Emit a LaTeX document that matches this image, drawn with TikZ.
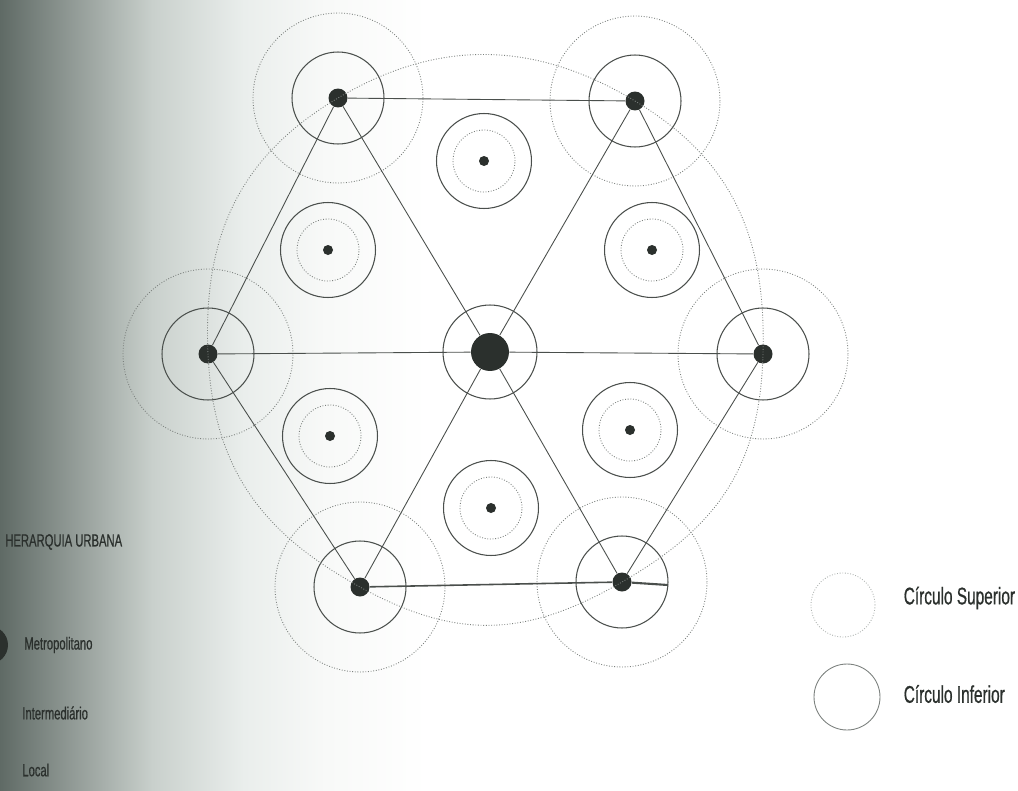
\documentclass[tikz,border=0pt]{standalone}
\usepackage{fontspec}
\usepackage{tikz}
\usetikzlibrary{positioning}
\newfontfamily\legendfont{Liberation Sans}[FakeStretch=0.64,FakeBold=0.6]
\definecolor{Ink}{HTML}{2B302D}
\definecolor{Line}{HTML}{4A4F4C}
\definecolor{Ring}{HTML}{7C817E}
\definecolor{RingLight}{HTML}{AEB3B0}
\definecolor{ScanDark}{HTML}{5F6A65}
\definecolor{ScanMid}{HTML}{C9D0CC}
\definecolor{ScanPale}{HTML}{EAEEEC}
\definecolor{ScanFaint}{HTML}{F8F9F8}
\pgfdeclarehorizontalshading{scanshadow}{100bp}{color(0bp)=(ScanDark); color(25bp)=(ScanDark); color(32.5bp)=(ScanMid); color(37bp)=(ScanPale); color(41bp)=(ScanFaint); color(46bp)=(white); color(100bp)=(white)}
\tikzset{metro/.style={circle,fill=Ink,minimum size=.76cm,inner sep=0pt},inter/.style={circle,fill=Ink,minimum size=.38cm,inner sep=0pt},local/.style={circle,fill=Ink,minimum size=.2cm,inner sep=0pt},road/.style={draw=Line,line width=.5pt},inferior/.style={draw=Line,line width=.6pt},superior/.style={draw=Ring,line width=.5pt,densely dotted},lab/.style={font=\legendfont\fontsize{10}{11}\selectfont,anchor=west,inner sep=0pt,text=Ink},labbig/.style={font=\legendfont\fontsize{13.7}{15}\selectfont,anchor=west,inner sep=0pt,text=Ink}}

\begin{document}
\begin{tikzpicture}[x=.02cm,y=-.02cm]
      \useasboundingbox (0,0) rectangle (1018,791);
      % scan shadow on the left
      \shade[shading=scanshadow] (0,0) rectangle (1018,791);
      % centres
      \node[metro](M) at (490,352){};
      \node[inter](A) at (338,98){};
      \node[inter](B) at (635,101){};
      \node[inter](C) at (763,354){};
      \node[inter](D) at (622,582){};
      \node[inter](E) at (360,587){};
      \node[inter](F) at (208,354){};
      \node[local](L1) at (484,161){};
      \node[local](L2) at (328,250){};
      \node[local](L3) at (652,250){};
      \node[local](L4) at (330,436){};
      \node[local](L5) at (630,430){};
      \node[local](L6) at (491,508){};
      \coordinate (Dx) at (668,585);
      % rings
      \foreach \n in {A,B,C,D,E,F}{\draw[inferior](\n.center) circle[radius=.92cm];\draw[superior](\n.center) circle[radius=1.7cm];}
      \foreach \n in {L1,L2,L3,L4,L5,L6}{\draw[inferior](\n.center) circle[radius=.95cm];\draw[superior](\n.center) circle[radius=.62cm];}
      \draw[inferior](M.center) circle[radius=.94cm];
      \draw[superior] plot[smooth cycle,tension=.85] coordinates {(A.center)(B.center)(C.center)(D.center)(E.center)(F.center)};
      % network
      \draw[road](A)--(B);\draw[road](B)--(C);\draw[road](C)--(D);\draw[road](E)--(F);\draw[road](F)--(A);
      \draw[road](A)--(M);\draw[road](B)--(M);\draw[road](D)--(M);\draw[road](E)--(M);\draw[road](F)--(M);\draw[road](M)--(C);
      \draw[road,line width=.9pt](E)--(D);\draw[road,line width=1.2pt](D)--(Dx);
      % legend
      \node[lab](t) at (5,542){HERARQUIA URBANA};
      \node[metro](k1) at (-11,645){};
      \node[lab](t1) at (24,645){Metropolitano};
      \node[lab](t2) at (22,713){Intermediário};
      \node[lab](t3) at (22,770){Local};
      \node[circle,draw=RingLight,densely dotted,line width=.5pt,minimum size=1.28cm](S) at (843,605){};
      \node[labbig,right=.56cm of S,yshift=.14cm](s){Círculo Superior};
      \node[circle,draw=Ring,line width=.5pt,minimum size=1.32cm](I) at (847,697){};
      \node[labbig,right=.46cm of I,yshift=.06cm](i){Círculo Inferior};
    \end{tikzpicture}
\end{document}
